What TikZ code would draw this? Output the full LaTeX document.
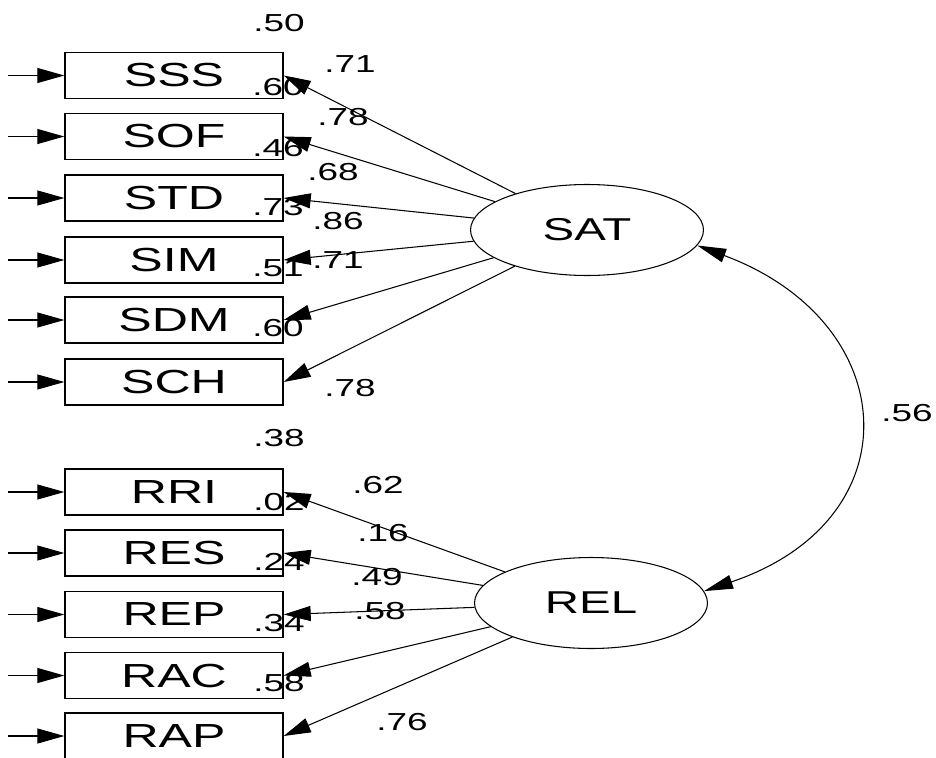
\documentclass[tikz,border=0pt]{standalone}
\usepackage{fontspec}
\setmainfont{Liberation Sans}[FakeStretch=1.5]
\usetikzlibrary{shapes.geometric,arrows.meta}
\begin{document}
\begin{tikzpicture}[x=0.02cm,y=-0.02cm,line width=0.6pt,
obs/.style={rectangle,draw,line width=0.8pt,minimum width=4.36cm,minimum height=0.92cm,inner sep=0pt,font=\fontsize{19}{22}\selectfont},
lat/.style={ellipse,draw,minimum width=4.66cm,minimum height=1.82cm,inner sep=0pt,font=\fontsize{18}{21}\selectfont},
num/.style={inner sep=0pt,font=\fontsize{14}{16}\selectfont},
arr/.style={-{Triangle[length=0.54cm,width=0.3cm]}},
twoarr/.style={{Triangle[length=0.58cm,width=0.28cm]}-{Triangle[length=0.58cm,width=0.28cm]}}]
\useasboundingbox (0,0) rectangle (936,757);

% observed variables
\node[obs] at (174,75.5) (SSS) {SSS};
\node[obs] at (174,136.5) (SOF) {SOF};
\node[obs] at (174,198) (STD) {STD};
\node[obs] at (174,260) (SIM) {SIM};
\node[obs] at (174,320) (SDM) {SDM};
\node[obs] at (174,382) (SCH) {SCH};
\node[obs] at (174,492) (RRI) {RRI};
\node[obs] at (174,553) (RES) {RES};
\node[obs] at (174,614.5) (REP) {REP};
\node[obs] at (174,675.5) (RAC) {RAC};
\node[obs] at (174,736) (RAP) {RAP};

% latent variables
\node[lat] at (587,230) (SAT) {SAT};
\node[lat] at (591,603) (REL) {REL};

% error terms
\coordinate (eSSS) at (8,75.5);
\coordinate (eSOF) at (8,136.5);
\coordinate (eSTD) at (8,198);
\coordinate (eSIM) at (8,260);
\coordinate (eSDM) at (8,320);
\coordinate (eSCH) at (8,382);
\coordinate (eRRI) at (8,492);
\coordinate (eRES) at (8,553);
\coordinate (eREP) at (8,614.5);
\coordinate (eRAC) at (8,675.5);
\coordinate (eRAP) at (8,736);

\draw[arr] (eSSS) -- (SSS);
\draw[arr] (eSOF) -- (SOF);
\draw[arr] (eSTD) -- (STD);
\draw[arr] (eSIM) -- (SIM);
\draw[arr] (eSDM) -- (SDM);
\draw[arr] (eSCH) -- (SCH);
\draw[arr] (eRRI) -- (RRI);
\draw[arr] (eRES) -- (RES);
\draw[arr] (eREP) -- (REP);
\draw[arr] (eRAC) -- (RAC);
\draw[arr] (eRAP) -- (RAP);

% loadings
\draw[arr] (SAT) -- (SSS.east);
\draw[arr] (SAT) -- (SOF.east);
\draw[arr] (SAT) -- (STD.east);
\draw[arr] (SAT) -- (SIM.east);
\draw[arr] (SAT) -- (SDM.east);
\draw[arr] (SAT) -- (SCH.east);
\draw[arr] (REL) -- (RRI.east);
\draw[arr] (REL) -- (RES.east);
\draw[arr] (REL) -- (REP.east);
\draw[arr] (REL) -- (RAC.east);
\draw[arr] (REL) -- (RAP.east);

% covariance
\draw[twoarr] (SAT.-8) .. controls (903,322) and (915,520) .. (REL.6);
\node[num] at (907,413) (cov) {.56};

% squared multiple correlations
\node[num] at (279,23) (vSSS) {.50};
\node[num] at (278,87) (vSOF) {.60};
\node[num] at (278,148) (vSTD) {.46};
\node[num] at (278,207) (vSIM) {.73};
\node[num] at (278,268) (vSDM) {.51};
\node[num] at (278,328) (vSCH) {.60};
\node[num] at (279,438) (vRRI) {.38};
\node[num] at (279,502) (vRES) {.02};
\node[num] at (279,562) (vREP) {.24};
\node[num] at (279,623) (vRAC) {.34};
\node[num] at (279,683) (vRAP) {.58};

% loading values
\node[num] at (350,64) (lSSS) {.71};
\node[num] at (343,117) (lSOF) {.78};
\node[num] at (333,172) (lSTD) {.68};
\node[num] at (338,221) (lSIM) {.86};
\node[num] at (338,260) (lSDM) {.71};
\node[num] at (350,388) (lSCH) {.78};
\node[num] at (378,485) (lRRI) {.62};
\node[num] at (383,533) (lRES) {.16};
\node[num] at (377,577) (lREP) {.49};
\node[num] at (380,611) (lRAC) {.58};
\node[num] at (402,722) (lRAP) {.76};
\end{tikzpicture}
\end{document}
